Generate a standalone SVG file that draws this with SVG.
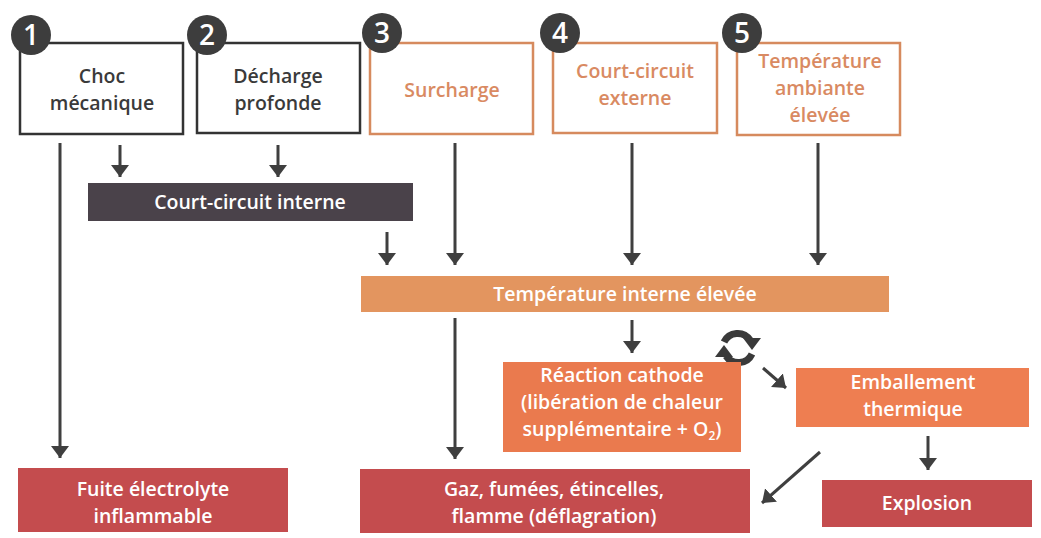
<svg xmlns="http://www.w3.org/2000/svg" width="1041" height="538" viewBox="0 0 1041 538">
<defs>
<style>
text{font-family:"Open Sans","Liberation Sans",sans-serif;font-weight:600;font-size:19.5px;text-anchor:middle}
.dk{fill:#fff;stroke:#333;stroke-width:2.5}
.dkt{fill:#3a3a3a}
.or{fill:#fff;stroke:#d68a5e;stroke-width:2.5}
.ort{fill:#d98a62}
.wt{fill:#fff}
.num{fill:#3d3d3d}
.numt{fill:#fff;font-size:28px;font-weight:600}
.ar{stroke:#3f3f3f;stroke-width:3;fill:none;marker-end:url(#ah)}
.red{fill:#c44c4e}
</style>
<marker id="ah" markerUnits="userSpaceOnUse" markerWidth="14" markerHeight="20" refX="12" refY="9" orient="auto">
<path d="M0,0 L12,9 L0,18 Z" fill="#3f3f3f"/>
</marker>
</defs>

<g id="connectors">
<line class="ar" x1="60" y1="143" x2="60" y2="458"/>
<line class="ar" x1="120" y1="145" x2="120" y2="177"/>
<line class="ar" x1="278" y1="145" x2="278" y2="177"/>
<line class="ar" x1="455" y1="143" x2="455" y2="265"/>
<line class="ar" x1="632" y1="143" x2="632" y2="265"/>
<line class="ar" x1="818" y1="143" x2="818" y2="265"/>
<line class="ar" x1="387" y1="232" x2="387" y2="265"/>
<line class="ar" x1="455" y1="318" x2="455" y2="459"/>
<line class="ar" x1="632" y1="320" x2="632" y2="353"/>
<line class="ar" x1="763" y1="368" x2="786" y2="388"/>
<line class="ar" x1="928" y1="436" x2="928" y2="470"/>
<line class="ar" x1="820" y1="452" x2="762" y2="503"/>
<g id="cycle" fill="none" stroke="#3a3a3a" stroke-width="7">
<path d="M724,342 A15,15 0 0 1 750,340"/>
<path d="M752,354 A15,15 0 0 1 726,356"/>
<path d="M743,338 L761,338 L752,350 Z" fill="#3a3a3a" stroke="none"/>
<path d="M715,357 L733,357 L724,345 Z" fill="#3a3a3a" stroke="none"/>
</g>
</g>

<g id="n1">
<rect class="dk" x="20" y="43" width="163" height="91"/>
<text class="dkt" x="102" y="83">Choc</text>
<text class="dkt" x="102" y="110">mécanique</text>
<circle class="num" cx="31" cy="35" r="20"/>
<text class="numt" x="31" y="45">1</text>
</g>
<g id="n2">
<rect class="dk" x="197" y="43" width="163" height="90"/>
<text class="dkt" x="278" y="83">Décharge</text>
<text class="dkt" x="278" y="110">profonde</text>
<circle class="num" cx="207" cy="35" r="20"/>
<text class="numt" x="207" y="45">2</text>
</g>
<g id="n3">
<rect class="or" x="370" y="43" width="163" height="91"/>
<text class="ort" x="452" y="97">Surcharge</text>
<circle class="num" cx="382" cy="33" r="20"/>
<text class="numt" x="382" y="43">3</text>
</g>
<g id="n4">
<rect class="or" x="553" y="43" width="164" height="90"/>
<text class="ort" x="635" y="78">Court-circuit</text>
<text class="ort" x="635" y="105">externe</text>
<circle class="num" cx="560" cy="33" r="20"/>
<text class="numt" x="560" y="43">4</text>
</g>
<g id="n5">
<rect class="or" x="737" y="43" width="163" height="92"/>
<text class="ort" x="820" y="68">Température</text>
<text class="ort" x="820" y="95">ambiante</text>
<text class="ort" x="820" y="122">élevée</text>
<circle class="num" cx="742" cy="33" r="20"/>
<text class="numt" x="742" y="43">5</text>
</g>
<g id="cci">
<rect x="88" y="183" width="325" height="38" fill="#4a424a"/>
<text class="wt" x="250" y="209">Court-circuit interne</text>
</g>
<g id="tie">
<rect x="361" y="276" width="528" height="36" fill="#e3955f"/>
<text class="wt" x="625" y="301">Température interne élevée</text>
</g>
<g id="rc">
<rect x="503" y="362" width="238" height="90" fill="#ea7a4e"/>
<text class="wt" x="622" y="382">Réaction cathode</text>
<text class="wt" x="622" y="409">(libération de chaleur</text>
<text class="wt" x="622" y="436">supplémentaire + O<tspan font-size="12" dy="4">2</tspan><tspan dy="-4">)</tspan></text>
</g>
<g id="emb">
<rect x="796" y="368" width="233" height="59" fill="#ee7e51"/>
<text class="wt" x="913" y="389">Emballement</text>
<text class="wt" x="913" y="416">thermique</text>
</g>
<g id="fuite">
<rect class="red" x="18" y="468" width="270" height="64"/>
<text class="wt" x="153" y="496">Fuite électrolyte</text>
<text class="wt" x="153" y="523">inflammable</text>
</g>
<g id="gaz">
<rect class="red" x="360" y="469" width="390" height="64"/>
<text class="wt" x="554" y="496">Gaz, fumées, étincelles,</text>
<text class="wt" x="554" y="523">flamme (déflagration)</text>
</g>
<g id="explo">
<rect class="red" x="822" y="480" width="210" height="47"/>
<text class="wt" x="927" y="510">Explosion</text>
</g>
</svg>
